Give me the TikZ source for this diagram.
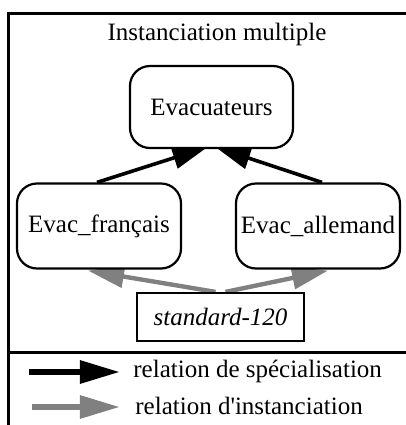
\documentclass[tikz,border=0pt]{standalone}
\usepackage{fontspec}
\setmainfont{Liberation Serif}
\usetikzlibrary{arrows.meta}
\usetikzlibrary{backgrounds}

\begin{document}
\begin{tikzpicture}[x=0.5pt, y=-0.5pt,
		txt/.style={font=\fontsize{12.5}{14}\selectfont, inner sep=0pt},
		classe/.style={txt, draw, line width=1.1pt, rounded corners=10pt, fill=white, minimum width=82pt, minimum height=42.5pt},
		inst/.style={txt, draw, line width=1.1pt, fill=white, minimum width=83.5pt, minimum height=24pt},
		spec/.style={-{Triangle[length=17.5pt, width=11pt]}, line width=1.8pt, black},
		instof/.style={-{Triangle[length=18pt, width=11pt]}, line width=2.2pt, gray},
		lspec/.style={-{Triangle[length=20pt, width=11pt]}, line width=3pt}]
		\useasboundingbox (0,0) rectangle (406,425);

		% frame
		\draw[line width=1.5pt] (406,13) -- (9,13) -- (9,425);
		\draw[line width=1.5pt] (9,352) -- (406,352);

		\node[txt] (title) at (217,34) {Instanciation multiple};

		\node[classe, minimum width=81.5pt, minimum height=41pt] (ev) at (211.5,107) {Evacuateurs};
		\node[classe] (fr) at (99,226) {Evac\_français};
		\node[classe] (al) at (318,226) {Evac\_allemand};
		\node[inst] (std) at (220.5,317) {\itshape standard-120};

		% tips hidden under the boxes
		\coordinate (evl) at ([xshift=-2pt, yshift=1pt]ev.south);
		\coordinate (evr) at ([xshift=2pt, yshift=1pt]ev.south);
		\coordinate (frb) at ([xshift=-5.5pt, yshift=-0.5pt]fr.south);
		\coordinate (alb) at ([xshift=5pt, yshift=-0.5pt]al.south);
		\coordinate (stdl) at ([xshift=-2.5pt]std.north);
		\coordinate (stdr) at ([xshift=2.5pt]std.north);

		\begin{scope}[on background layer]
			% specialisation
			\draw[spec] ([xshift=-1pt]fr.north) -- (evl);
			\draw[spec] ([xshift=2pt]al.north) -- (evr);
			% instanciation
			\draw[instof] (stdl) -- (frb);
			\draw[instof] (stdr) -- (alb);
		\end{scope}

		% legend
		\node[txt, anchor=west] (lgspec) at (133,371) {relation de spécialisation};
		\node[txt, anchor=west] (lginst) at (135,406) {relation d\textquotesingle instanciation};
		\coordinate (ls0) at (29,372);
		\coordinate (ls1) at (120,372);
		\coordinate (li0) at (32,407);
		\coordinate (li1) at (120,407);
		\draw[lspec, black] (ls0) -- (ls1);
		\draw[lspec, gray] (li0) -- (li1);
	\end{tikzpicture}
\end{document}
